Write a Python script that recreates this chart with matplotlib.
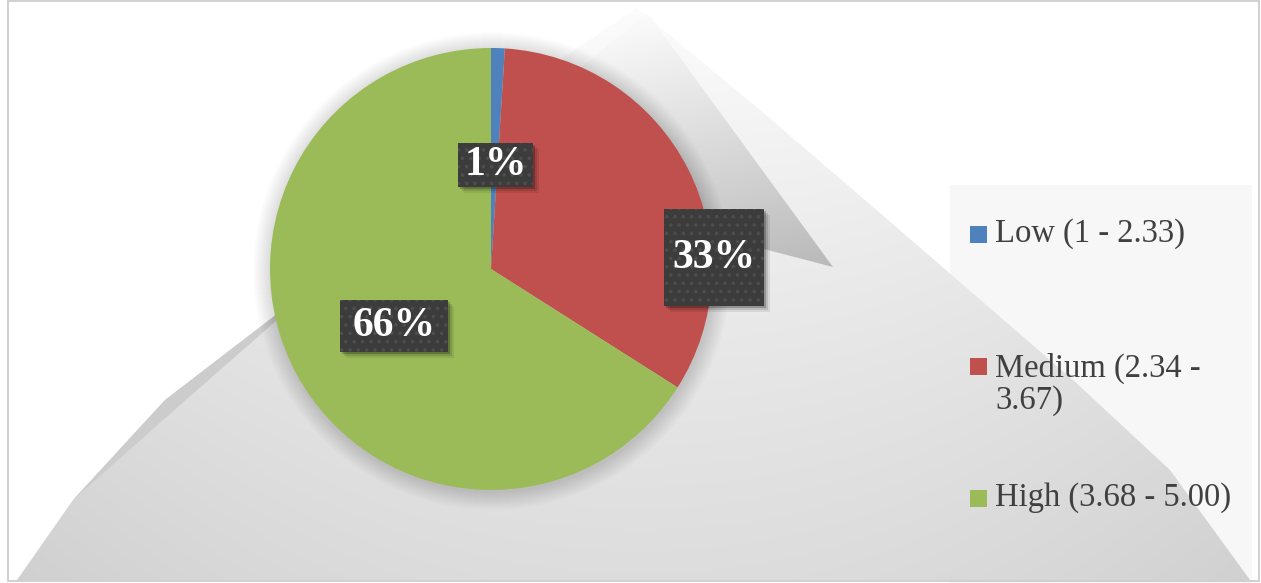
import numpy as np
import matplotlib
matplotlib.use("Agg")
import matplotlib.pyplot as plt
from matplotlib.patches import Polygon, Rectangle, Circle

# ---- data ----
categories = ["Low (1 - 2.33)", "Medium (2.34 -\n3.67)", "High (3.68 - 5.00)"]
values = [1, 33, 66]
colors = ["#4F81BD", "#C0504D", "#9BBB59"]

W, H = 1261, 583
plt.rcParams["hatch.linewidth"] = 1.4

fig = plt.figure(figsize=(W / 100, H / 100), dpi=100)
ax = fig.add_axes([0, 0, 1, 1])
ax.set_xlim(0, W)
ax.set_ylim(0, H)
ax.axis("off")


def P(x, y):
    """image pixel coords -> axes data coords"""
    return (x, H - y)


# legend background panel
ax.add_patch(Rectangle(P(950, 583), 302, 398, facecolor="#f7f7f7", edgecolor="none", zorder=0))

# gradient helper
yy, xx = np.mgrid[0:H, 0:W]
yi = H - yy  # image y for each row (origin lower)


def grad_poly(pts, gray, z):
    poly = Polygon([P(*p) for p in pts], closed=True, facecolor="none", edgecolor="none",
                   transform=ax.transData)
    ax.add_patch(poly)
    img = np.dstack([gray, gray, gray])
    im = ax.imshow(img, extent=(0, W, 0, H), origin="lower", zorder=z, interpolation="bilinear")
    im.set_clip_path(poly)


# big backdrop shape
big = [(637, 8), (760, 110), (880, 213), (1073, 380), (1170, 470), (1250, 580),
       (17, 580), (73, 500), (165, 400), (273, 317), (420, 180), (560, 60)]
g_big = 0.995 - 0.13 * np.clip(yi / H, 0, 1) ** 0.8 - 0.05 * ((xx - 640) / 620.0) ** 2
g_big = np.clip(g_big, 0.78, 1.0)
grad_poly(big, g_big, 1)

# darker edge strip on the left
strip = [(273, 317), (300, 300), (180, 405), (73, 500), (165, 400)]
grad_poly(strip, np.full((H, W), 0.80), 1.1)

# darker fold triangle on the upper right
fold = [(648, 14), (833, 267), (760, 248), (560, 160), (575, 72)]
g_fold = 0.985 - 0.22 * np.clip((yi - 14) / 253.0, 0, 1) - 0.04 * ((xx - 645) / 190.0)
g_fold = np.clip(g_fold, 0.72, 1.0)
grad_poly(fold, g_fold, 1.2)

# soft shadow around pie
cx, cy, R = 491, 269, 221
for k in range(18, 0, -1):
    ax.add_patch(Circle(P(cx + 1, cy + 2), R + k, facecolor="black", edgecolor="none",
                        alpha=0.009, zorder=2))

# pie
wedges, _ = ax.pie(values, colors=colors, startangle=90, counterclock=False,
                   center=P(cx, cy), radius=R, frame=True,
                   wedgeprops=dict(linewidth=0))
for w in wedges:
    w.set_zorder(3)
ax.set_xlim(0, W)
ax.set_ylim(0, H)
ax.set_aspect("equal")
ax.axis("off")

# data label boxes (layout: centre offsets in radius units, box sizes in px)
label_offsets = [(0.02, 0.47), (1.01, 0.05), (-0.44, -0.26)]
box_sizes = [(75, 44), (100, 97), (108, 52)]
for v, (ox, oy), (bw, bh) in zip(values, label_offsets, box_sizes):
    bx = cx + ox * R
    by = cy - oy * R
    # drop shadow
    for s, a in [(6, 0.08), (4, 0.12), (2, 0.22)]:
        ax.add_patch(Rectangle((bx - bw / 2 + s, H - by - bh / 2 - s), bw, bh,
                               facecolor="black", edgecolor="none", alpha=a, zorder=4))
    ax.add_patch(Rectangle((bx - bw / 2, H - by - bh / 2), bw, bh,
                           facecolor="#3c3c3c", edgecolor="#4d4d4d", linewidth=0,
                           hatch="..", zorder=5))
    ax.text(bx, H - by, f"{v}%", ha="center", va="center", color="white",
            fontsize=30, fontweight="bold", family="Liberation Serif", zorder=6)

# legend
leg_y = [234, 384, 498]
for cat, col, ly in zip(categories, colors, leg_y):
    my = ly if "\n" not in cat else 366
    ax.add_patch(Rectangle((970, H - my - 8.5), 17, 17, facecolor=col, edgecolor="none", zorder=7))
    ax.text(995, H - ly, cat, ha="left", va="center", color="#404040",
            fontsize=23.5, family="Liberation Serif", linespacing=1.05, zorder=7)

# outer frame
ax.add_patch(Rectangle((8, H - 581), 1251, 580, facecolor="none", edgecolor="#c8c8c8",
                       linewidth=1.2, zorder=10))

fig.savefig("out.png", dpi=100)
